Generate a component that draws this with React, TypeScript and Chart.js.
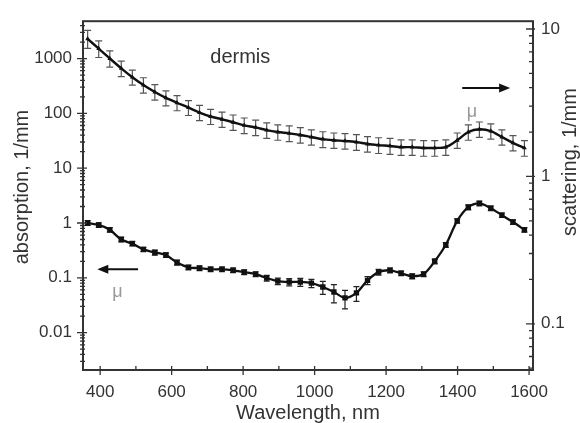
import React, { useEffect, useRef } from 'react';
import { Chart, registerables } from 'chart.js';

Chart.register(...registerables);

// ---- data ----
const wavelengths = [365, 396, 427, 459, 490, 521, 553, 584, 615, 647, 678, 709, 741, 772, 803, 835, 866, 897, 929, 960, 991, 1023, 1054, 1085, 1117, 1148, 1179, 1211, 1242, 1273, 1305, 1336, 1367, 1399, 1430, 1461, 1493, 1524, 1555, 1587];

const absorption = [1.0, 0.92, 0.75, 0.5, 0.42, 0.33, 0.29, 0.26, 0.19, 0.155, 0.15, 0.143, 0.143, 0.137, 0.127, 0.117, 0.099, 0.087, 0.084, 0.084, 0.08, 0.068, 0.055, 0.043, 0.053, 0.09, 0.127, 0.137, 0.121, 0.107, 0.117, 0.2, 0.4, 1.09, 1.94, 2.28, 1.86, 1.39, 1.04, 0.75];
const absorptionErr = [0.1, 0.09, 0.07, 0.05, 0.04, 0.03, 0.03, 0.025, 0.02, 0.015, 0.015, 0.014, 0.014, 0.013, 0.013, 0.012, 0.012, 0.012, 0.013, 0.014, 0.014, 0.018, 0.02, 0.016, 0.016, 0.015, 0.015, 0.014, 0.012, 0.011, 0.012, 0.02, 0.04, 0.1, 0.2, 0.23, 0.18, 0.13, 0.1, 0.07];

const scattering = [8.58, 7.36, 6.31, 5.41, 4.71, 4.17, 3.74, 3.41, 3.16, 2.93, 2.71, 2.55, 2.44, 2.33, 2.22, 2.15, 2.06, 2.0, 1.96, 1.91, 1.85, 1.79, 1.76, 1.74, 1.71, 1.66, 1.63, 1.61, 1.58, 1.58, 1.56, 1.56, 1.58, 1.76, 2.0, 2.09, 2.03, 1.85, 1.69, 1.56];
const scatteringErr = [1.2, 0.95, 0.8, 0.65, 0.55, 0.5, 0.45, 0.4, 0.37, 0.34, 0.32, 0.3, 0.29, 0.28, 0.27, 0.26, 0.25, 0.24, 0.24, 0.23, 0.22, 0.22, 0.21, 0.21, 0.21, 0.2, 0.2, 0.2, 0.19, 0.19, 0.19, 0.19, 0.19, 0.21, 0.24, 0.25, 0.24, 0.22, 0.2, 0.19];

const xMajorTicks = [400, 600, 800, 1000, 1200, 1400, 1600];
const xMinorTicks = [500, 700, 900, 1100, 1300, 1500];
const leftMajorTicks = [0.01, 0.1, 1, 10, 100, 1000];
const leftDecades = [0.001, 0.01, 0.1, 1, 10, 100, 1000];
const rightMajorTicks = [0.1, 1, 10];
const rightDecades = [0.01, 0.1, 1, 10];
const minorMultipliers = [2, 3, 4, 5, 6, 7, 8, 9];

const X_MIN = 352;
const X_MAX = 1611;
const YL_MIN = 0.00208;
const YL_MAX = 4800;
const YR_MIN = 0.0486;
const YR_MAX = 11.3;

const FONT = "'Liberation Sans', Arial, sans-serif";
const AXIS_COLOR = '#333';

function logTicks(decades: number[], majors: number[], min: number, max: number) {
  const out: { value: number; major: boolean }[] = [];
  decades.forEach((d) => {
    if (d >= min && d <= max) out.push({ value: d, major: majors.includes(d) });
    minorMultipliers.forEach((m) => {
      const v = d * m;
      if (v >= min && v <= max) out.push({ value: v, major: false });
    });
  });
  return out.sort((a, b) => a.value - b.value);
}

function drawErrors(ctx: CanvasRenderingContext2D, xs: any, ys: any, xv: number[], yv: number[], ev: number[], color: string, cap: number) {
  ctx.strokeStyle = color;
  ctx.lineWidth = 1.2;
  xv.forEach((w, i) => {
    const px = xs.getPixelForValue(w);
    const top = ys.getPixelForValue(yv[i] + ev[i]);
    const bot = ys.getPixelForValue(Math.max(yv[i] - ev[i], 1e-6));
    ctx.beginPath();
    ctx.moveTo(px, top);
    ctx.lineTo(px, bot);
    ctx.moveTo(px - cap, top);
    ctx.lineTo(px + cap, top);
    ctx.moveTo(px - cap, bot);
    ctx.lineTo(px + cap, bot);
    ctx.stroke();
  });
}

function drawArrow(ctx: CanvasRenderingContext2D, x1: number, y1: number, x2: number, y2: number) {
  const dir = Math.sign(x2 - x1);
  ctx.strokeStyle = '#111';
  ctx.fillStyle = '#111';
  ctx.lineWidth = 2;
  ctx.beginPath();
  ctx.moveTo(x1, y1);
  ctx.lineTo(x2 - dir * 8, y2);
  ctx.stroke();
  ctx.beginPath();
  ctx.moveTo(x2, y2);
  ctx.lineTo(x2 - dir * 11, y2 - 4.5);
  ctx.lineTo(x2 - dir * 11, y2 + 4.5);
  ctx.closePath();
  ctx.fill();
}

const decorPlugin = {
  id: 'decor',
  beforeDatasetsDraw(chart: any) {
    const ctx = chart.ctx as CanvasRenderingContext2D;
    const { x, y, y2 } = chart.scales;
    ctx.save();
    drawErrors(ctx, x, y2, wavelengths, scattering, scatteringErr, '#555', 3.5);
    drawErrors(ctx, x, y, wavelengths, absorption, absorptionErr, '#222', 3);
    ctx.restore();
  },
  afterDraw(chart: any) {
    const ctx = chart.ctx as CanvasRenderingContext2D;
    const { x, y, y2 } = chart.scales;
    const a = chart.chartArea;
    ctx.save();
    // frame
    ctx.strokeStyle = AXIS_COLOR;
    ctx.lineWidth = 2;
    ctx.strokeRect(a.left, a.top, a.right - a.left, a.bottom - a.top);
    ctx.lineWidth = 1.3;
    ctx.beginPath();
    // x ticks
    xMajorTicks.forEach((v) => {
      const px = x.getPixelForValue(v);
      ctx.moveTo(px, a.bottom - 4);
      ctx.lineTo(px, a.bottom + 5);
    });
    xMinorTicks.forEach((v) => {
      const px = x.getPixelForValue(v);
      ctx.moveTo(px, a.bottom - 4);
      ctx.lineTo(px, a.bottom);
    });
    // left ticks
    logTicks(leftDecades, leftMajorTicks, YL_MIN, YL_MAX).forEach((t) => {
      const py = y.getPixelForValue(t.value);
      ctx.moveTo(a.left - (t.major ? 6 : 3), py);
      ctx.lineTo(a.left + (t.major ? 4 : 2), py);
    });
    // right ticks
    logTicks(rightDecades, rightMajorTicks, YR_MIN, YR_MAX).forEach((t) => {
      const py = y2.getPixelForValue(t.value);
      ctx.moveTo(a.right - (t.major ? 7 : 4), py);
      ctx.lineTo(a.right + (t.major ? 2 : 0), py);
    });
    ctx.stroke();

    // annotations
    ctx.fillStyle = '#333';
    ctx.font = `20px ${FONT}`;
    ctx.textAlign = 'center';
    ctx.textBaseline = 'middle';
    ctx.fillText('dermis', x.getPixelForValue(792), y.getPixelForValue(1038));

    drawArrow(ctx, x.getPixelForValue(1413), y2.getPixelForValue(3.98), x.getPixelForValue(1547), y2.getPixelForValue(3.98));
    drawArrow(ctx, x.getPixelForValue(506), y.getPixelForValue(0.143), x.getPixelForValue(392), y.getPixelForValue(0.143));

    ctx.fillStyle = '#999';
    ctx.font = `18px ${FONT}`;
    ctx.fillText('μ', x.getPixelForValue(1440), y2.getPixelForValue(2.75));
    ctx.fillText('μ', x.getPixelForValue(448), y.getPixelForValue(0.055));

    // axis titles
    ctx.fillStyle = '#333';
    ctx.font = `20px ${FONT}`;
    ctx.fillText('Wavelength, nm', (a.left + a.right) / 2, 413);
    ctx.save();
    ctx.translate(22, 187);
    ctx.rotate(-Math.PI / 2);
    ctx.fillText('absorption, 1/mm', 0, 0);
    ctx.restore();
    ctx.save();
    ctx.translate(570, 162);
    ctx.rotate(-Math.PI / 2);
    ctx.fillText('scattering, 1/mm', 0, 0);
    ctx.restore();
    ctx.restore();
  },
};

export default function App() {
  const ref = useRef<HTMLCanvasElement>(null);

  useEffect(() => {
    if (!ref.current) return;
    const chart = new Chart(ref.current, {
      type: 'line',
      data: {
        datasets: [
          {
            label: 'absorption',
            data: wavelengths.map((w, i) => ({ x: w, y: absorption[i] })),
            yAxisID: 'y',
            borderColor: '#111',
            backgroundColor: '#111',
            borderWidth: 2.3,
            pointStyle: 'rect',
            pointRadius: 3.8,
            pointBorderWidth: 0,
            tension: 0.3,
          },
          {
            label: 'scattering',
            data: wavelengths.map((w, i) => ({ x: w, y: scattering[i] })),
            yAxisID: 'y2',
            borderColor: '#111',
            backgroundColor: '#111',
            borderWidth: 2.4,
            pointStyle: 'triangle',
            pointRadius: 2.8,
            pointBorderWidth: 0,
            tension: 0.3,
          },
        ],
      },
      options: {
        responsive: false,
        animation: false,
        devicePixelRatio: 1,
        layout: { padding: { top: 15, left: 0, right: 0, bottom: 0 } },
        plugins: { legend: { display: false }, tooltip: { enabled: false } },
        scales: {
          x: {
            type: 'linear',
            min: X_MIN,
            max: X_MAX,
            grid: { display: false, drawTicks: false },
            border: { display: false },
            afterBuildTicks: (s: any) => {
              s.ticks = xMajorTicks.map((v) => ({ value: v }));
            },
            afterFit: (s: any) => {
              s.height = 53;
            },
            ticks: {
              autoSkip: false,
              maxRotation: 0,
              padding: 12,
              color: '#333',
              font: { family: FONT, size: 17 },
              callback: (v: any) => String(v),
            },
          },
          y: {
            type: 'logarithmic',
            position: 'left',
            min: YL_MIN,
            max: YL_MAX,
            grid: { display: false, drawTicks: false },
            border: { display: false },
            afterBuildTicks: (s: any) => {
              s.ticks = leftMajorTicks.map((v) => ({ value: v }));
            },
            afterFit: (s: any) => {
              s.width = 83;
            },
            ticks: {
              autoSkip: false,
              padding: 11,
              color: '#333',
              font: { family: FONT, size: 17 },
              callback: (v: any) => String(v),
            },
          },
          y2: {
            type: 'logarithmic',
            position: 'right',
            min: YR_MIN,
            max: YR_MAX,
            grid: { display: false, drawTicks: false },
            border: { display: false },
            afterBuildTicks: (s: any) => {
              s.ticks = rightMajorTicks.map((v) => ({ value: v }));
            },
            afterFit: (s: any) => {
              s.width = 47;
            },
            ticks: {
              autoSkip: false,
              padding: 8,
              color: '#333',
              font: { family: FONT, size: 17 },
              callback: (v: any) => String(v),
            },
          },
        },
      },
      plugins: [decorPlugin],
    } as any);
    return () => chart.destroy();
  }, []);

  return (
    <div style={{ position: 'fixed', left: 0, top: 0, width: 580, height: 423, background: '#fff' }}>
      <canvas ref={ref} width={580} height={423} style={{ display: 'block' }} />
    </div>
  );
}
